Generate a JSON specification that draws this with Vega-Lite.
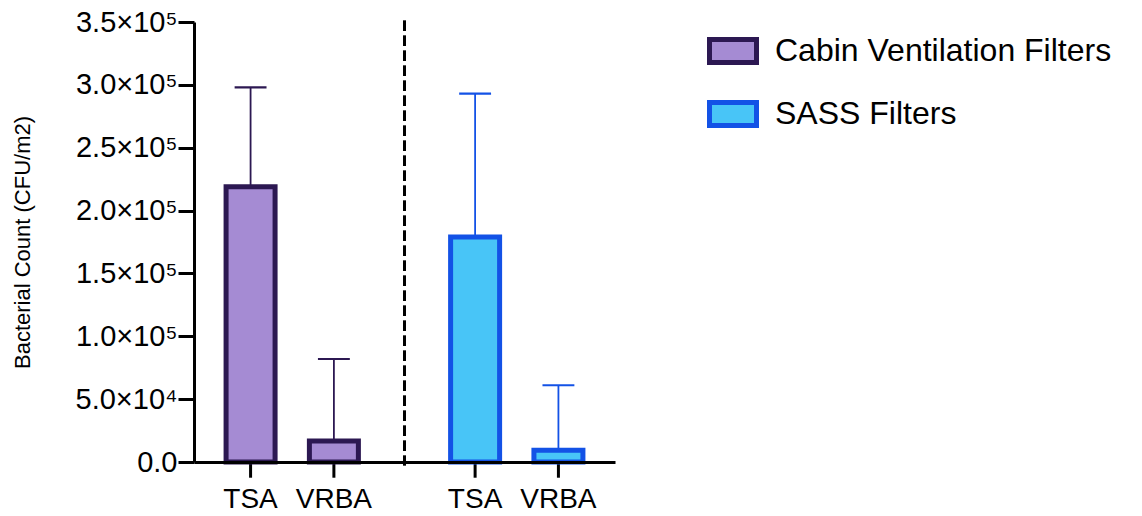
{
  "$schema": "https://vega.github.io/schema/vega-lite/v6.json",
  "autosize": "none",
  "padding": {"left": 194, "top": 22, "right": 527, "bottom": 54},
  "width": 421,
  "height": 440,
  "data": {"values": [
    {"group": "Cabin Ventilation Filters", "medium": "TSA", "value": 219000, "err": 298000},
    {"group": "Cabin Ventilation Filters", "medium": "VRBA", "value": 16800, "err": 81900},
    {"group": "SASS Filters", "medium": "TSA", "value": 179000, "err": 293000},
    {"group": "SASS Filters", "medium": "VRBA", "value": 9300, "err": 61000}
  ]},
  "config": {
    "view": {"stroke": null},
    "font": "Liberation Sans",
    "axis": {"grid": false, "domainColor": "black", "domainWidth": 3, "tickColor": "black", "tickWidth": 3, "labelColor": "black", "titleColor": "black", "labelFont": "Liberation Sans", "titleFont": "Liberation Sans"}
  },
  "layer": [
    {
      "mark": {"type": "rule", "strokeDash": [10, 5], "strokeWidth": 3, "color": "black"},
      "encoding": {
        "x": {"datum": "Cabin Ventilation Filters", "bandPosition": 1.125, "type": "nominal"},
        "y": {"datum": 351000, "type": "quantitative"},
        "y2": {"datum": -2500}
      }
    },
    {
      "mark": {"type": "rule", "strokeWidth": 3, "color": "black"},
      "encoding": {
        "x": {"field": "group", "type": "nominal"},
        "xOffset": {"field": "medium", "type": "nominal"},
        "y": {"datum": 0, "type": "quantitative"},
        "y2": {"datum": -12500}
      }
    },
    {
      "mark": {"type": "text", "fontSize": 28, "dy": 46, "baseline": "alphabetic", "color": "black", "font": "Liberation Sans"},
      "encoding": {
        "x": {"field": "group", "type": "nominal"},
        "xOffset": {"field": "medium", "type": "nominal"},
        "y": {"datum": 0, "type": "quantitative"},
        "text": {"field": "medium"}
      }
    },
    {
      "mark": {"type": "rule", "strokeWidth": 1.8, "opacity": 1},
      "encoding": {
        "x": {"field": "group", "type": "nominal"},
        "xOffset": {"field": "medium", "type": "nominal"},
        "y": {"field": "value", "type": "quantitative"},
        "y2": {"field": "err"},
        "stroke": {"field": "group", "type": "nominal"}
      }
    },
    {
      "mark": {"type": "tick", "orient": "horizontal", "size": 30, "thickness": 0.2, "opacity": 1, "fillOpacity": 0, "strokeWidth": 1.9},
      "encoding": {
        "x": {"field": "group", "type": "nominal"},
        "xOffset": {"field": "medium", "type": "nominal"},
        "y": {"field": "err", "type": "quantitative"},
        "stroke": {"field": "group", "type": "nominal"}
      }
    },
    {
      "mark": {"type": "bar", "width": 49, "strokeWidth": 5, "fillOpacity": 1, "opacity": 1},
      "encoding": {
        "x": {
          "field": "group", "type": "nominal",
          "scale": {"paddingInner": 0.2, "paddingOuter": 0.0375},
          "axis": {"title": null, "labels": false, "ticks": false, "zindex": 1}
        },
        "xOffset": {
          "field": "medium", "type": "nominal",
          "scale": {"domain": ["TSA", "VRBA"], "paddingInner": 0, "paddingOuter": 0.078}
        },
        "y": {
          "field": "value", "type": "quantitative",
          "scale": {"domain": [0, 350000], "nice": false, "zero": true},
          "axis": {
            "title": "Bacterial Count (CFU/m2)",
            "titleFontSize": 22, "titleFontWeight": "normal", "titlePadding": 41,
            "values": [0, 50000, 100000, 150000, 200000, 250000, 300000, 350000],
            "labelExpr": "datum.value == 0 ? '0.0' : (datum.value < 100000 ? format(datum.value/10000, '.1f') + '×10⁴' : format(datum.value/100000, '.1f') + '×10⁵')",
            "labelFontSize": 29, "labelPadding": 1, "tickSize": 16, "zindex": 1
          }
        },
        "fill": {
          "field": "group", "type": "nominal",
          "scale": {"domain": ["Cabin Ventilation Filters", "SASS Filters"], "range": ["#a58bd3", "#48c5f7"]},
          "legend": {
            "title": null, "orient": "none", "legendX": 513, "legendY": 3, "padding": 0,
            "symbolType": "M-1,-0.49H1V0.49H-1Z", "symbolSize": 2209, "symbolStrokeWidth": 5, "symbolOpacity": 1,
            "labelFontSize": 32, "labelColor": "black", "labelFont": "Liberation Sans", "labelLimit": 500,
            "labelOffset": 16, "rowPadding": 15
          }
        },
        "stroke": {
          "field": "group", "type": "nominal",
          "scale": {"domain": ["Cabin Ventilation Filters", "SASS Filters"], "range": ["#2c1852", "#1352e6"]},
          "legend": {
            "title": null, "orient": "none", "legendX": 513, "legendY": 3, "padding": 0,
            "symbolType": "M-1,-0.49H1V0.49H-1Z", "symbolSize": 2209, "symbolStrokeWidth": 5, "symbolOpacity": 1,
            "labelFontSize": 32, "labelColor": "black", "labelFont": "Liberation Sans", "labelLimit": 500,
            "labelOffset": 16, "rowPadding": 15
          }
        }
      }
    }
  ]
}
